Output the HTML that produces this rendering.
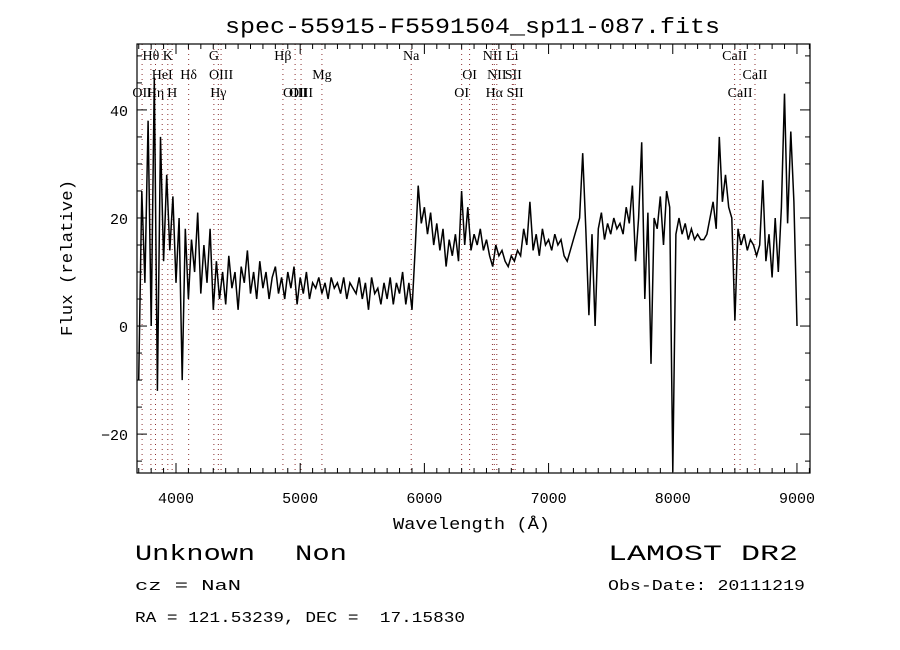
<!DOCTYPE html>
<html><head><meta charset="utf-8"><style>
html,body{margin:0;padding:0;background:#fff;width:900px;height:650px;overflow:hidden}
svg text{font-family:"Liberation Mono",monospace;fill:#000;white-space:pre}
.ll{font-family:"Liberation Serif",serif;font-size:14px}
</style></head><body>
<svg id="chart" width="900" height="650" viewBox="0 0 900 650" xmlns="http://www.w3.org/2000/svg">
<rect x="0" y="0" width="900" height="650" fill="#fff"/>
<text x="225" y="33" font-size="22" textLength="495" lengthAdjust="spacingAndGlyphs">spec-55915-F5591504_sp11-087.fits</text>
<g id="lines"></g>
<g id="ticks"></g>
<path id="spec" fill="none" stroke="#000" stroke-width="1.5" stroke-linejoin="miter"/>
<rect x="137" y="44" width="673" height="429" fill="none" stroke="#000" stroke-width="1.2"/>
<text x="393" y="529" font-size="17" textLength="157" lengthAdjust="spacingAndGlyphs">Wavelength (Å)</text>
<text transform="translate(72,336) rotate(-90)" font-size="17" textLength="156" lengthAdjust="spacingAndGlyphs">Flux (relative)</text>
<text x="135" y="560" font-size="22" textLength="120" lengthAdjust="spacingAndGlyphs">Unknown</text>
<text x="295" y="560" font-size="22" textLength="52" lengthAdjust="spacingAndGlyphs">Non</text>
<text x="608" y="560" font-size="22" textLength="190" lengthAdjust="spacingAndGlyphs">LAMOST DR2</text>
<text x="135" y="590" font-size="15" textLength="106" lengthAdjust="spacingAndGlyphs">cz = NaN</text>
<text x="608" y="590" font-size="15" textLength="197" lengthAdjust="spacingAndGlyphs">Obs-Date: 20111219</text>
<text x="135" y="622" font-size="15" textLength="330" lengthAdjust="spacingAndGlyphs" xml:space="preserve">RA = 121.53239, DEC =  17.15830</text>
</svg>
<script>
const waveStart = 3700;
const waveStep = 25;
const flux = [
-10,25,8,38,0,46,-12,35,12,
28,14,24,8,20,-10,18,5,16,10,21,6,15,8,18,3,
12,5,10,4,13,7,10,3,11,8,14,6,10,5,12,7,10,5,9,11,6,9,5,10,7,11,4,9,6,10,5,8,7,9,6,8,5,9,7,8,6,9,5,8,7,6,9,5,8,3,9,6,7,4,8,5,9,4,8,6,10,4,8,3,
14,26,19,22,17,21,15,19,14,18,11,16,13,17,12,25,15,22,14,17,15,18,14,16,13,11,15,13,14,12,11,13,
12,14,13,18,15,23,14,17,13,18,15,16,14,17,15,16,13,12,14,16,
18,20,32,18,2,17,0,18,21,16,19,17,
20,18,19,17,22,19,26,12,20,34,5,21,-7,20,
18,24,15,25,22,-27,17,
20,17,19,16,18,16,17,16,16,17,20,23,18,35,23,28,22,20,1,
18,15,17,14,16,15,13,15,27,12,17,9,20,10,22,43,19,36,23,0
];
const lineWaves = [3727,3798,3835,3889,3934,3969,4102,4305,4341,4363,4861,4959,5007,5175,5894,6300,6364,6548,6563,6583,6708,6716,6731,8498,8542,8662];
const lineNames = ["OII","Hθ","Hη","HeI","K","H","Hδ","G","Hγ","OIII","Hβ","OIII","OIII","Mg","Na","OI","OI","NII","Hα","NII","Li","SII","SII","CaII","CaII","CaII"];
const lineRows = [2,0,2,1,0,2,1,0,2,1,0,2,2,1,0,2,1,0,2,1,0,1,2,0,2,1];
const xTickLabels = [4000,5000,6000,7000,8000,9000];
const yTickLabels = [-20,0,20,40];

const X0=137,X1=810,Y0=44,Y1=473;
const wMin=3686,wMax=9105,fMin=-27.2,fMax=52.2;
function sx(w){return X0+(w-wMin)/(wMax-wMin)*(X1-X0);}
function sy(f){return Y1-(f-fMin)/(fMax-fMin)*(Y1-Y0);}
const NS="http://www.w3.org/2000/svg";
function mk(tag,attrs,parent){const e=document.createElementNS(NS,tag);for(const k in attrs)e.setAttribute(k,attrs[k]);parent.appendChild(e);return e;}

let d="";
flux.forEach((f,i)=>{const w=waveStart+i*waveStep;d+=(i?"L":"M")+sx(w).toFixed(1)+","+sy(f).toFixed(1);});
document.getElementById("spec").setAttribute("d",d);

const lg=document.getElementById("lines");
const rowY=[60,79,97];
lineWaves.forEach((w,i)=>{
  const x=sx(w);
  const l=mk("line",{x1:x,x2:x,y1:Y0,y2:Y1,stroke:"#8b3030","stroke-width":1,"stroke-dasharray":"1,4"},lg);
  
  
  const t=mk("text",{x:x,y:rowY[lineRows[i]],"text-anchor":"middle",class:"ll"},lg);
  t.textContent=lineNames[i];
  
  
});

const tg=document.getElementById("ticks");
for(let w=3700;w<=9100;w+=100){
  const x=sx(w);const maj=w%1000===0;const L=maj?10:5;
  const a=mk("line",{x1:x,x2:x,y1:Y1,y2:Y1-L,stroke:"#000","stroke-width":1},tg);
  
  
  const b=mk("line",{x1:x,x2:x,y1:Y0,y2:Y0+L,stroke:"#000","stroke-width":1},tg);
  
  
}
xTickLabels.forEach(v=>{
  const t=mk("text",{x:sx(v),y:503,"text-anchor":"middle","font-size":"15"},tg);
  t.textContent=v;
  
  
});
for(let f=-25;f<=50;f+=5){
  const y=sy(f);const maj=f%20===0;const L=maj?10:5;
  const a=mk("line",{x1:X0,x2:X0+L,y1:y,y2:y,stroke:"#000","stroke-width":1},tg);
  
  
  const b=mk("line",{x1:X1,x2:X1-L,y1:y,y2:y,stroke:"#000","stroke-width":1},tg);
  
  
}
yTickLabels.forEach(v=>{
  const t=mk("text",{x:128,y:sy(v)+6,"text-anchor":"end","font-size":"15"},tg);
  t.textContent=v<0?"\u2212"+Math.abs(v):v;
  
  
});
</script>
</body></html>
